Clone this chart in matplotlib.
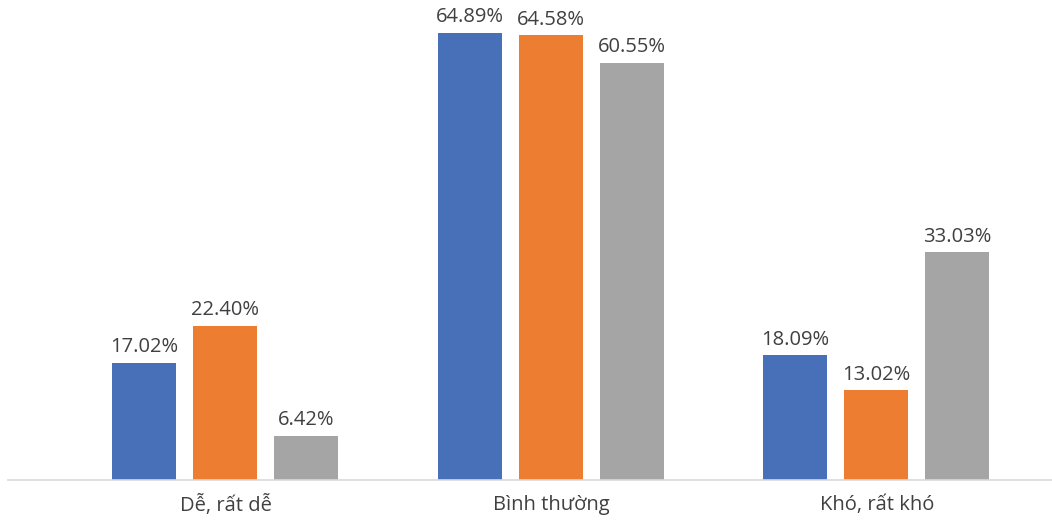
import numpy as np
import matplotlib.pyplot as plt

categories = ["Dễ, rất dễ", "Bình thường", "Khó, rất khó"]
series_a = [17.02, 64.89, 18.09]
series_b = [22.40, 64.58, 13.02]
series_c = [6.42, 60.55, 33.03]
colours = ["#4870B8", "#ED7D31", "#A5A5A5"]

plt.rcParams['font.family'] = ['Open Sans', 'DejaVu Sans']

fig = plt.figure(figsize=(10.52, 5.26), dpi=100)
# axes spans from x=8px to the right edge, baseline at y=480px
ax = fig.add_axes([8 / 1052, 46 / 526, 1044 / 1052, 480 / 526])

x = np.arange(len(categories))
w = 0.197
off = 0.249
for i, (vals, c) in enumerate(zip([series_a, series_b, series_c], colours)):
    pos = x + (i - 1) * off - 0.003
    ax.bar(pos, vals, width=w, color=c)
    for p, v in zip(pos, vals):
        ax.text(p, v + 0.8, f"{v:.2f}%", ha="center", va="bottom",
                fontsize=14.5, color="#404040")

ax.set_xlim(-0.671, 2.538)
ax.set_ylim(0, 480 / 6.89)
ax.set_yticks([])
ax.set_xticks(x)
ax.set_xticklabels(categories, fontsize=14.5, color="#404040")
ax.tick_params(axis="x", length=0, pad=11)
for s in ["top", "right", "left"]:
    ax.spines[s].set_visible(False)
ax.spines["bottom"].set_color("#D9D9D9")
ax.spines["bottom"].set_linewidth(1.2)

fig.savefig("out.png", dpi=100)
